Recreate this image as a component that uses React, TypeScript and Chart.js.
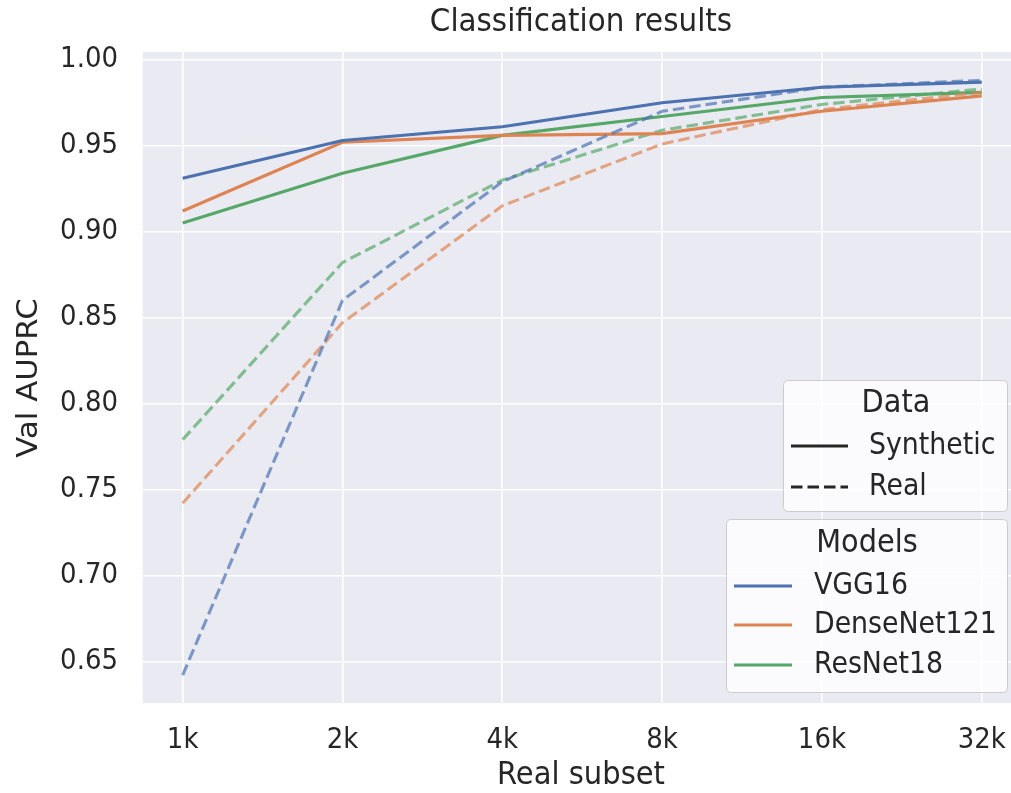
import React, { useEffect, useRef } from "react";
import { Chart, registerables } from "chart.js";

Chart.register(...registerables);

const categories = ["1k", "2k", "4k", "8k", "16k", "32k"];
const yTicks = [0.65, 0.7, 0.75, 0.8, 0.85, 0.9, 0.95, 1.0];

const vggSynthetic = [0.931, 0.953, 0.961, 0.975, 0.984, 0.987];
const vggReal = [0.642, 0.86, 0.929, 0.97, 0.984, 0.988];
const denseSynthetic = [0.912, 0.952, 0.956, 0.957, 0.97, 0.979];
const denseReal = [0.742, 0.847, 0.915, 0.951, 0.971, 0.981];
const resSynthetic = [0.905, 0.934, 0.956, 0.967, 0.978, 0.981];
const resReal = [0.779, 0.882, 0.93, 0.959, 0.974, 0.983];

const modelNames = ["VGG16", "DenseNet121", "ResNet18"];
const dataNames = ["Synthetic", "Real"];

const BLUE = "#4c72b0";
const ORANGE = "#dd8452";
const GREEN = "#55a868";
const BLUE_A = "rgba(76,114,176,0.7)";
const ORANGE_A = "rgba(221,132,82,0.7)";
const GREEN_A = "rgba(85,168,104,0.7)";
const TEXT = "#262626";
const FONT = "'DejaVu Sans', sans-serif";
const SY = 1.1;
const LW = 3.1;
const DASH = [11.5, 5];

const toPts = (arr: number[]) => arr.map((v, i) => ({ x: i, y: v }));

function roundRect(ctx: CanvasRenderingContext2D, x: number, y: number, w: number, h: number, r: number) {
  ctx.beginPath();
  ctx.moveTo(x + r, y);
  ctx.lineTo(x + w - r, y);
  ctx.quadraticCurveTo(x + w, y, x + w, y + r);
  ctx.lineTo(x + w, y + h - r);
  ctx.quadraticCurveTo(x + w, y + h, x + w - r, y + h);
  ctx.lineTo(x + r, y + h);
  ctx.quadraticCurveTo(x, y + h, x, y + h - r);
  ctx.lineTo(x, y + r);
  ctx.quadraticCurveTo(x, y, x + r, y);
  ctx.closePath();
}

function text(ctx: CanvasRenderingContext2D, s: string, x: number, y: number, size: number, align: CanvasTextAlign, rot = false) {
  ctx.save();
  ctx.translate(x, y);
  if (rot) {
    ctx.rotate(-Math.PI / 2);
    ctx.scale(SY, 1);
  } else {
    ctx.scale(1, SY);
  }
  ctx.font = `${size}px ${FONT}`;
  ctx.fillStyle = TEXT;
  ctx.textAlign = align;
  ctx.textBaseline = "middle";
  ctx.fillText(s, 0, 0);
  ctx.restore();
}

const decorPlugin = {
  id: "decor",
  beforeDraw(chart: any) {
    const { ctx, chartArea } = chart;
    ctx.save();
    ctx.fillStyle = "#eaeaf2";
    ctx.fillRect(chartArea.left, chartArea.top, chartArea.right - chartArea.left, chartArea.bottom - chartArea.top);
    ctx.restore();
  },
  afterDraw(chart: any) {
    const { ctx } = chart;
    const xs = chart.scales.x;
    const ys = chart.scales.y;
    ctx.save();
    // tick labels
    categories.forEach((c, i) => text(ctx, c, xs.getPixelForValue(i), 741, 26, "center"));
    yTicks.forEach((v) => text(ctx, v.toFixed(2), 118, ys.getPixelForValue(v), 26, "right"));
    // titles
    text(ctx, "Classification results", 581, 23, 29.4, "center");
    text(ctx, "Real subset", 581, 776, 29, "center");
    text(ctx, "Val AUPRC", 30, 378, 28, "center", true);

    // Data legend
    ctx.lineWidth = 1;
    roundRect(ctx, 783.5, 380.5, 224, 131, 5);
    ctx.fillStyle = "rgba(255,255,255,0.8)";
    ctx.fill();
    ctx.strokeStyle = "#cccccc";
    ctx.stroke();
    text(ctx, "Data", 896, 404, 28.8, "center");
    const dataYs = [446, 487];
    dataNames.forEach((n, i) => {
      ctx.beginPath();
      ctx.strokeStyle = "#262626";
      ctx.lineWidth = LW;
      ctx.setLineDash(i === 1 ? DASH : []);
      ctx.moveTo(791, dataYs[i]);
      ctx.lineTo(848, dataYs[i]);
      ctx.stroke();
      ctx.setLineDash([]);
      text(ctx, n, 869, dataYs[i], 26.8, "left");
    });

    // Models legend
    ctx.lineWidth = 1;
    roundRect(ctx, 726.5, 519.5, 281, 173, 5);
    ctx.fillStyle = "rgba(255,255,255,0.8)";
    ctx.fill();
    ctx.strokeStyle = "#cccccc";
    ctx.stroke();
    text(ctx, "Models", 867, 544, 28.8, "center");
    const colors = [BLUE, ORANGE, GREEN];
    const modelYs = [586, 625, 665];
    modelNames.forEach((n, i) => {
      ctx.beginPath();
      ctx.strokeStyle = colors[i];
      ctx.lineWidth = LW;
      ctx.moveTo(734, modelYs[i]);
      ctx.lineTo(792, modelYs[i]);
      ctx.stroke();
      text(ctx, n, 814, modelYs[i], 26.8, "left");
    });
    ctx.restore();
  },
};

export default function App() {
  const ref = useRef<HTMLCanvasElement | null>(null);
  useEffect(() => {
    if (!ref.current) return;
    const chart = new Chart(ref.current, {
      type: "line",
      data: {
        datasets: [
          { label: "VGG16 Synthetic", data: toPts(vggSynthetic), borderColor: BLUE, borderWidth: LW },
          { label: "VGG16 Real", data: toPts(vggReal), borderColor: BLUE_A, borderWidth: LW, borderDash: DASH },
          { label: "DenseNet121 Synthetic", data: toPts(denseSynthetic), borderColor: ORANGE, borderWidth: LW },
          { label: "DenseNet121 Real", data: toPts(denseReal), borderColor: ORANGE_A, borderWidth: LW, borderDash: DASH },
          { label: "ResNet18 Synthetic", data: toPts(resSynthetic), borderColor: GREEN, borderWidth: LW },
          { label: "ResNet18 Real", data: toPts(resReal), borderColor: GREEN_A, borderWidth: LW, borderDash: DASH },
        ] as any,
      },
      options: {
        animation: false,
        responsive: false,
        parsing: false as any,
        elements: { point: { radius: 0, hoverRadius: 0 }, line: { tension: 0 } },
        layout: { padding: { top: 52, right: 0, left: 0, bottom: 0 } },
        plugins: { legend: { display: false }, tooltip: { enabled: false }, title: { display: false } },
        scales: {
          x: {
            type: "linear",
            min: -0.25,
            max: 5.183,
            afterBuildTicks: (scale: any) => {
              scale.ticks = categories.map((_, i) => ({ value: i }));
            },
            afterFit: (scale: any) => {
              scale.height = 90;
            },
            ticks: { display: false },
            grid: { color: "#ffffff", lineWidth: 1.6, drawTicks: false },
            border: { display: false },
          },
          y: {
            type: "linear",
            min: 0.6258,
            max: 1.0045,
            afterBuildTicks: (scale: any) => {
              scale.ticks = yTicks.map((v) => ({ value: v }));
            },
            afterFit: (scale: any) => {
              scale.width = 142.7;
            },
            ticks: { display: false },
            grid: { color: "#ffffff", lineWidth: 1.6, drawTicks: false },
            border: { display: false },
          },
        },
      },
      plugins: [decorPlugin],
    } as any);
    return () => chart.destroy();
  }, []);
  return (
    <div style={{ position: "absolute", left: 0, top: 0, width: 1011, height: 793, background: "#fff" }}>
      <canvas ref={ref} width={1011} height={793} style={{ display: "block" }} />
    </div>
  );
}
